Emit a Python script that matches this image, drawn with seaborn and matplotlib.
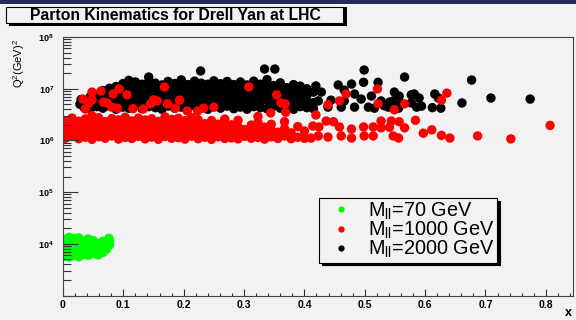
import matplotlib
matplotlib.use("Agg")
import numpy as np
import pandas as pd
import matplotlib.pyplot as plt
import seaborn as sns
from matplotlib.patches import Rectangle
from matplotlib.ticker import FixedLocator, LogLocator, NullFormatter, FuncFormatter, MultipleLocator

# ---------------- data ----------------
title = "Parton Kinematics for Drell Yan at LHC"
ylabel = r"Q$^{2}$(GeV)$^{2}$"
xlabel = "x"
legend_labels = [r"M$_{\mathrm{ll}}$=70 GeV", r"M$_{\mathrm{ll}}$=1000 GeV", r"M$_{\mathrm{ll}}$=2000 GeV"]
series_colors = ["#00ff00", "#ff0000", "#000000"]

# M_ll = 70 GeV  (x, Q^2)
green_pts = [
    (0.003, 5.7e3), (0.003, 7.0e3), (0.003, 8.4e3), (0.003, 1.00e4), (0.003, 1.22e4),
    (0.010, 5.5e3), (0.010, 6.8e3), (0.010, 8.2e3), (0.010, 9.8e3), (0.010, 1.18e4), (0.010, 1.33e4),
    (0.018, 6.0e3), (0.018, 7.3e3), (0.018, 8.9e3), (0.018, 1.08e4), (0.018, 1.28e4),
    (0.026, 5.6e3), (0.026, 7.0e3), (0.026, 8.5e3), (0.026, 1.03e4), (0.026, 1.30e4),
    (0.034, 6.2e3), (0.034, 7.5e3), (0.034, 9.1e3), (0.034, 1.12e4),
    (0.042, 6.0e3), (0.042, 7.4e3), (0.042, 8.8e3), (0.042, 1.05e4), (0.042, 1.24e4),
    (0.050, 6.5e3), (0.050, 8.0e3), (0.050, 9.6e3), (0.050, 1.15e4),
    (0.058, 6.1e3), (0.058, 7.3e3), (0.058, 8.7e3), (0.058, 1.02e4),
    (0.066, 6.8e3), (0.066, 8.3e3), (0.066, 9.7e3), (0.066, 1.12e4),
    (0.072, 7.8e3), (0.072, 9.3e3), (0.072, 1.10e4),
    (0.077, 9.5e3), (0.077, 1.15e4), (0.076, 1.28e4),
]

# M_ll = 1000 GeV
red_pts = [
    (0.004, 1.10e6), (0.004, 1.45e6), (0.004, 1.90e6), (0.004, 2.40e6),
    (0.015, 1.20e6), (0.015, 1.60e6), (0.015, 2.10e6), (0.015, 2.70e6),
    (0.026, 1.08e6), (0.026, 1.38e6), (0.026, 1.80e6), (0.026, 2.35e6),
    (0.037, 1.15e6), (0.037, 1.55e6), (0.037, 2.05e6), (0.037, 2.60e6),
    (0.048, 1.05e6), (0.048, 1.42e6), (0.048, 1.85e6), (0.048, 2.45e6), (0.048, 3.00e6),
    (0.059, 1.18e6), (0.059, 1.62e6), (0.059, 2.15e6), (0.059, 2.75e6),
    (0.070, 1.10e6), (0.070, 1.35e6), (0.070, 1.75e6), (0.070, 2.30e6),
    (0.081, 1.22e6), (0.081, 1.58e6), (0.081, 2.00e6), (0.081, 2.65e6),
    (0.092, 1.06e6), (0.092, 1.45e6), (0.092, 1.90e6), (0.092, 2.50e6),
    (0.103, 1.14e6), (0.103, 1.52e6), (0.103, 2.08e6), (0.103, 2.80e6),
    (0.114, 1.09e6), (0.114, 1.40e6), (0.114, 1.82e6), (0.114, 2.38e6),
    (0.125, 1.20e6), (0.125, 1.65e6), (0.125, 2.20e6), (0.125, 2.70e6),
    (0.136, 1.07e6), (0.136, 1.44e6), (0.136, 1.88e6), (0.136, 2.48e6),
    (0.147, 1.16e6), (0.147, 1.56e6), (0.147, 2.02e6), (0.147, 2.62e6),
    (0.158, 1.05e6), (0.158, 1.36e6), (0.158, 1.78e6), (0.158, 2.32e6),
    (0.169, 1.19e6), (0.169, 1.60e6), (0.169, 2.12e6), (0.169, 2.85e6),
    (0.180, 1.10e6), (0.180, 1.47e6), (0.180, 1.95e6), (0.180, 2.55e6),
    (0.191, 1.13e6), (0.191, 1.53e6), (0.191, 2.05e6), (0.191, 2.68e6),
    (0.202, 1.06e6), (0.202, 1.39e6), (0.202, 1.84e6), (0.202, 2.40e6),
    (0.213, 1.21e6), (0.213, 1.63e6), (0.213, 2.18e6), (0.213, 2.75e6),
    (0.224, 1.08e6), (0.224, 1.46e6), (0.224, 1.92e6), (0.224, 2.50e6),
    (0.235, 1.15e6), (0.235, 1.57e6), (0.235, 2.10e6),
    (0.246, 1.05e6), (0.246, 1.37e6), (0.246, 1.80e6), (0.246, 2.42e6),
    (0.257, 1.18e6), (0.257, 1.59e6), (0.257, 2.06e6),
    (0.268, 1.09e6), (0.268, 1.43e6), (0.268, 1.90e6), (0.268, 2.58e6),
    (0.279, 1.12e6), (0.279, 1.51e6), (0.279, 2.00e6),
    (0.290, 1.07e6), (0.290, 1.40e6), (0.290, 1.86e6), (0.290, 2.45e6),
    (0.301, 1.20e6), (0.301, 1.62e6),
    (0.312, 1.10e6), (0.312, 1.48e6), (0.312, 1.98e6),
    (0.323, 1.14e6), (0.323, 1.55e6), (0.323, 2.20e6), (0.323, 2.90e6),
    (0.334, 1.06e6), (0.334, 1.36e6), (0.334, 1.80e6),
    (0.345, 1.17e6), (0.345, 1.60e6), (0.345, 2.05e6),
    (0.356, 1.09e6), (0.356, 1.44e6),
    (0.367, 1.22e6), (0.367, 1.70e6), (0.367, 2.30e6),
    (0.378, 1.08e6), (0.378, 1.40e6),
    (0.389, 1.15e6), (0.389, 1.85e6),
    (0.400, 1.10e6), (0.400, 1.52e6),
    # sparse tail
    (0.419, 3.1e6), (0.436, 2.37e6), (0.448, 2.30e6), (0.414, 1.90e6), (0.424, 1.82e6),
    (0.458, 1.82e6), (0.478, 1.66e6), (0.498, 1.82e6), (0.514, 1.82e6), (0.527, 2.37e6),
    (0.527, 1.75e6), (0.544, 2.37e6), (0.557, 2.30e6), (0.584, 2.45e6), (0.566, 1.75e6),
    (0.611, 1.60e6), (0.423, 1.22e6), (0.439, 1.16e6), (0.461, 1.22e6), (0.478, 1.11e6),
    (0.499, 1.22e6), (0.547, 1.22e6), (0.597, 1.38e6), (0.411, 1.11e6), (0.541, 1.80e6),
    (0.556, 1.11e6), (0.514, 1.22e6), (0.627, 1.25e6), (0.641, 1.11e6), (0.687, 1.22e6),
    (0.742, 1.07e6), (0.807, 1.95e6),
    # high outliers among the black band
    (0.033, 6.3e6), (0.042, 5.1e6), (0.048, 8.6e6), (0.048, 6.1e6), (0.063, 9.0e6),
    (0.067, 5.5e6), (0.073, 5.3e6), (0.081, 4.4e6), (0.083, 7.9e6), (0.093, 9.9e6),
    (0.106, 7.6e6), (0.116, 4.1e6), (0.133, 4.05e6), (0.145, 5.1e6), (0.150, 6.1e6),
    (0.156, 5.8e6), (0.168, 1.08e7), (0.173, 5.1e6), (0.186, 4.2e6), (0.193, 6.0e6),
    (0.206, 3.7e6), (0.223, 3.7e6), (0.233, 4.2e6), (0.250, 4.4e6), (0.308, 1.08e7),
    (0.344, 3.4e6), (0.354, 7.6e6), (0.361, 5.3e6), (0.368, 5.1e6), (0.369, 3.5e6),
    (0.439, 4.9e6), (0.458, 5.8e6), (0.469, 7.9e6), (0.521, 9.9e6), (0.522, 5.1e6),
    (0.549, 3.9e6), (0.566, 5.1e6), (0.627, 6.0e6), (0.636, 8.2e6), (0.037, 4.05e6),
    (0.090, 4.2e6),
]

# M_ll = 2000 GeV
black_pts = [
    (0.028, 5.0e6), (0.030, 6.2e6),
    (0.035, 4.3e6), (0.035, 5.4e6),
    (0.045, 4.1e6), (0.045, 5.6e6), (0.045, 7.0e6),
    (0.056, 4.5e6), (0.056, 5.9e6), (0.056, 7.6e6),
    (0.066, 4.2e6), (0.066, 5.3e6), (0.066, 7.0e6), (0.066, 9.2e6),
    (0.077, 4.6e6), (0.077, 6.1e6), (0.077, 8.0e6), (0.077, 1.02e7),
    (0.088, 4.0e6), (0.088, 5.5e6), (0.088, 7.3e6), (0.088, 9.6e6), (0.088, 1.10e7),
    (0.099, 4.4e6), (0.099, 5.8e6), (0.099, 7.8e6), (0.099, 1.04e7), (0.099, 1.25e7),
    (0.109, 4.2e6), (0.109, 5.6e6), (0.109, 7.4e6), (0.109, 9.8e6), (0.109, 1.20e7), (0.109, 1.45e7),
    (0.120, 4.7e6), (0.120, 6.2e6), (0.120, 8.4e6), (0.120, 1.12e7), (0.120, 1.35e7),
    (0.131, 4.1e6), (0.131, 5.4e6), (0.131, 7.1e6), (0.131, 9.3e6), (0.131, 1.22e7),
    (0.142, 4.5e6), (0.142, 6.0e6), (0.142, 8.1e6), (0.142, 1.06e7), (0.142, 1.36e7), (0.142, 1.68e7),
    (0.153, 4.3e6), (0.153, 5.7e6), (0.153, 7.5e6), (0.153, 1.00e7), (0.153, 1.28e7),
    (0.164, 4.0e6), (0.164, 5.2e6), (0.164, 6.9e6), (0.164, 9.1e6), (0.164, 1.18e7),
    (0.174, 4.6e6), (0.174, 6.3e6), (0.174, 8.6e6), (0.174, 1.10e7), (0.174, 1.38e7),
    (0.185, 4.2e6), (0.185, 5.5e6), (0.185, 7.3e6), (0.185, 9.7e6), (0.185, 1.26e7),
    (0.196, 4.4e6), (0.196, 5.9e6), (0.196, 7.9e6), (0.196, 1.04e7), (0.196, 1.30e7), (0.196, 1.48e7),
    (0.207, 4.1e6), (0.207, 5.3e6), (0.207, 7.0e6), (0.207, 9.2e6), (0.207, 1.20e7),
    (0.218, 4.7e6), (0.218, 6.1e6), (0.218, 8.3e6), (0.218, 1.12e7), (0.218, 1.40e7),
    (0.228, 2.20e7),
    (0.229, 4.3e6), (0.229, 5.6e6), (0.229, 7.6e6), (0.229, 1.01e7), (0.229, 1.28e7),
    (0.240, 4.0e6), (0.240, 5.4e6), (0.240, 7.2e6), (0.240, 9.5e6), (0.240, 1.22e7),
    (0.250, 4.5e6), (0.250, 6.0e6), (0.250, 8.0e6), (0.250, 1.07e7), (0.250, 1.42e7),
    (0.261, 4.2e6), (0.261, 5.7e6), (0.261, 7.5e6), (0.261, 9.9e6), (0.261, 1.25e7),
    (0.272, 4.6e6), (0.272, 6.2e6), (0.272, 8.5e6), (0.272, 1.13e7), (0.272, 1.38e7),
    (0.283, 4.1e6), (0.283, 5.5e6), (0.283, 7.3e6), (0.283, 9.6e6), (0.283, 1.20e7),
    (0.294, 4.4e6), (0.294, 5.8e6), (0.294, 7.8e6), (0.294, 1.03e7), (0.294, 1.35e7),
    (0.305, 4.0e6), (0.305, 5.3e6), (0.305, 7.1e6), (0.305, 9.3e6), (0.305, 1.18e7),
    (0.316, 4.5e6), (0.316, 6.0e6), (0.316, 8.2e6), (0.316, 1.09e7), (0.316, 1.40e7),
    (0.334, 2.40e7), (0.351, 2.40e7),
    (0.327, 4.3e6), (0.327, 5.6e6), (0.327, 7.4e6), (0.327, 9.8e6), (0.327, 1.22e7),
    (0.338, 4.1e6), (0.338, 5.9e6), (0.338, 7.9e6), (0.338, 1.04e7), (0.338, 1.50e7),
    (0.349, 4.6e6), (0.349, 6.3e6), (0.349, 8.6e6), (0.349, 1.15e7),
    (0.360, 4.2e6), (0.360, 5.5e6), (0.360, 7.2e6), (0.360, 9.5e6), (0.360, 1.30e7),
    (0.371, 4.4e6), (0.371, 5.8e6), (0.371, 7.7e6), (0.371, 1.05e7),
    (0.382, 4.0e6), (0.382, 5.2e6), (0.382, 6.8e6), (0.382, 9.0e6), (0.382, 1.20e7),
    (0.393, 4.5e6), (0.393, 6.1e6), (0.393, 8.1e6), (0.393, 1.12e7),
    (0.404, 4.3e6), (0.404, 5.6e6), (0.404, 7.4e6), (0.404, 1.00e7),
    (0.415, 4.1e6), (0.415, 5.4e6), (0.415, 8.6e6), (0.419, 1.13e7),
    # sparse tail
    (0.428, 8.6e6), (0.423, 5.8e6), (0.439, 4.4e6), (0.444, 6.0e6), (0.456, 1.18e7),
    (0.461, 4.4e6), (0.466, 5.8e6), (0.466, 9.4e6), (0.478, 1.23e7), (0.483, 7.9e6),
    (0.483, 4.4e6), (0.494, 6.3e6), (0.498, 1.33e7), (0.499, 2.30e7), (0.506, 4.4e6),
    (0.511, 7.2e6), (0.516, 4.2e6), (0.522, 1.33e7), (0.527, 5.8e6), (0.532, 4.7e6),
    (0.539, 4.4e6), (0.541, 5.5e6), (0.547, 5.8e6), (0.549, 8.6e6), (0.556, 4.2e6),
    (0.557, 7.2e6), (0.561, 5.1e6), (0.566, 1.68e7), (0.577, 7.6e6), (0.577, 5.3e6),
    (0.582, 7.9e6), (0.586, 4.4e6), (0.590, 6.6e6), (0.594, 4.6e6), (0.612, 4.3e6),
    (0.616, 7.9e6), (0.622, 6.6e6), (0.626, 4.2e6), (0.661, 5.3e6), (0.677, 1.47e7),
    (0.709, 6.6e6), (0.774, 6.3e6),
]

# ---------------- style ----------------
plt.rcParams["font.family"] = ["Liberation Sans", "DejaVu Sans"]
plt.rcParams["mathtext.fontset"] = "custom"
plt.rcParams["mathtext.rm"] = "Liberation Sans"
plt.rcParams["mathtext.it"] = "Liberation Sans:italic"
plt.rcParams["mathtext.bf"] = "Liberation Sans:bold"

BG = "#f2f2f2"
W, H = 576, 320
fig = plt.figure(figsize=(W / 100, H / 100), dpi=100, facecolor=BG)
ax = fig.add_axes([63 / W, 1 - 295.5 / H, 510 / W, 258.5 / H])
ax.set_facecolor(BG)

# ---------------- data frame (black first, red, green on top) ----------------
frames = []
for lab, pts in [(legend_labels[2], black_pts), (legend_labels[1], red_pts), (legend_labels[0], green_pts)]:
    xs, qs = zip(*pts)
    frames.append(pd.DataFrame({"x": xs, "Q2": qs, "sample": lab}))
df = pd.concat(frames, ignore_index=True)
palette = dict(zip(legend_labels, series_colors))

sns.scatterplot(data=df, x="x", y="Q2", hue="sample", palette=palette,
                s=46, linewidth=0, edgecolor="none", alpha=1, ax=ax, legend=True)

ax.set_yscale("log")
ax.set_xlim(0, 0.845)
ax.set_ylim(1e3, 1e8)
ax.set_xlabel("")
ax.set_ylabel("")

ax.yaxis.set_major_locator(FixedLocator([1e3, 1e4, 1e5, 1e6, 1e7, 1e8]))
ax.yaxis.set_major_formatter(FuncFormatter(
    lambda v, p: "" if v < 1e4 else r"$\mathbf{10^{%d}}$" % int(round(np.log10(v)))))
ax.yaxis.set_minor_locator(LogLocator(base=10, subs=np.arange(2, 10), numticks=20))
ax.yaxis.set_minor_formatter(NullFormatter())
ax.xaxis.set_major_locator(MultipleLocator(0.1))
ax.xaxis.set_minor_locator(MultipleLocator(0.02))
ax.xaxis.set_major_formatter(FuncFormatter(lambda v, p: "0" if abs(v) < 1e-9 else f"{v:.1f}"))

tc = "#333333"
ax.tick_params(axis="y", which="major", direction="in", length=10.8, width=0.8, pad=6.5,
               labelsize=6.5, color=tc)
ax.tick_params(axis="y", which="minor", direction="in", length=5.5, width=0.8, color=tc)
ax.tick_params(axis="x", which="major", direction="in", length=5, width=0.8, pad=3,
               labelsize=7.5, color=tc)
ax.tick_params(axis="x", which="minor", direction="in", length=2.5, width=0.8, color=tc)
for lab in ax.get_xticklabels():
    lab.set_fontweight("bold")
for sp in ax.spines.values():
    sp.set_color("#444444")
    sp.set_linewidth(0.8)

# legend (green, red, black)
handles, labels = ax.get_legend_handles_labels()
order = [labels.index(l) for l in legend_labels]
leg = ax.legend([handles[i] for i in order], [labels[i] for i in order],
                loc="upper left", bbox_to_anchor=(319 / W, 1 - 198 / H),
                bbox_transform=fig.transFigure, borderaxespad=0,
                frameon=True, fancybox=False, edgecolor="black", facecolor=BG, framealpha=1,
                shadow={"color": "black", "alpha": 1},
                fontsize=14.3, borderpad=0.12, labelspacing=-0.1,
                handlelength=2.0, handletextpad=0.35)
leg.get_frame().set_linewidth(0.8)
for h in leg.legend_handles:
    try:
        h.set_markersize(4.5)
    except AttributeError:
        h.set_sizes([20])

# title box with shadow
fig.add_artist(Rectangle((9 / W, 1 - 26 / H), 338 / W, 18.5 / H, transform=fig.transFigure,
                         facecolor="black", edgecolor="none"))
fig.add_artist(Rectangle((6 / W, 1 - 23 / H), 337 / W, 16 / H, transform=fig.transFigure,
                         facecolor=BG, edgecolor="black", linewidth=0.8))
fig.text(175 / W, 1 - 15.2 / H, title, ha="center", va="center",
         fontsize=11.3, fontweight="bold")

# top window band
fig.add_artist(Rectangle((0, 1 - 4 / H), 1, 4 / H, transform=fig.transFigure,
                         facecolor="#28285a", edgecolor="none"))

# axis titles
fig.text(19 / W, 1 - 39 / H, ylabel, rotation=90, ha="center", va="top", fontsize=8)
fig.text(568 / W, 1 - 313 / H, xlabel, ha="center", va="center", fontsize=9, fontweight="bold")

fig.savefig("out.png", dpi=100, facecolor=BG)
